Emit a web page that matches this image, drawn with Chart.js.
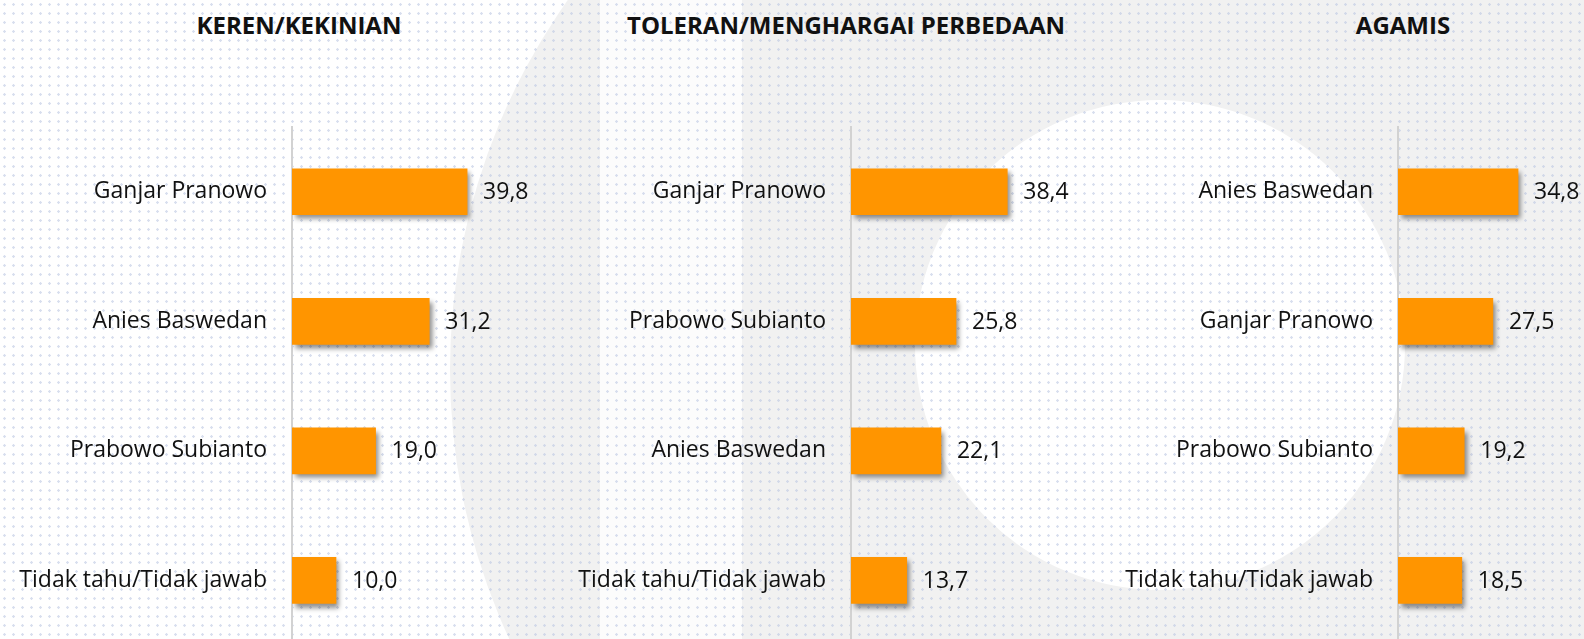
<!DOCTYPE html>
<html>
<head>
<meta charset="utf-8">
<script src="https://cdn.jsdelivr.net/npm/chart.js@4.4.1/dist/chart.umd.min.js"></script>
<style>
  html, body { margin: 0; padding: 0; }
  body { width: 1584px; height: 639px; overflow: hidden; position: relative; background: #ffffff; font-family: "Open Sans", sans-serif; }
  .deco { position: absolute; }
  .ring { left: 450px; top: -270px; width: 1280px; height: 1280px; border-radius: 50%; background: #f1f1f1; }
  .band { left: 600px; top: 0; width: 142px; height: 639px; background: rgba(255,255,255,0.8); }
  .hole { left: 915px; top: 100px; width: 490px; height: 490px; border-radius: 50%; background: #ffffff; }
  .dots { left: 0; top: 0; width: 1584px; height: 639px;
          background-image: radial-gradient(circle, rgba(185,197,225,0.55) 1px, transparent 1.5px);
          background-size: 9px 9px; }
  .title { position: absolute; top: 8px; font-weight: bold; font-size: 24px; color: #111; white-space: nowrap; transform: translateX(-50%); }
  .box { position: absolute; top: 0; height: 684px; }
</style>
</head>
<body>
<div class="deco ring"></div>
<div class="deco band"></div>
<div class="deco hole"></div>
<div class="deco dots"></div>

<div class="title" style="left:299px">KEREN/KEKINIAN</div>
<div class="title" style="left:846px">TOLERAN/MENGHARGAI PERBEDAAN</div>
<div class="title" style="left:1403px">AGAMIS</div>

<div class="box" style="left:0px; width:560px"><canvas id="c1"></canvas></div>
<div class="box" style="left:560px; width:540px"><canvas id="c2"></canvas></div>
<div class="box" style="left:1100px; width:484px"><canvas id="c3"></canvas></div>

<script>
// Keren/Kekinian
const kerenLabels = ['Ganjar Pranowo', 'Anies Baswedan', 'Prabowo Subianto', 'Tidak tahu/Tidak jawab'];
const kerenValues = [39.8, 31.2, 19.0, 10.0];

// Toleran/Menghargai perbedaan
const toleranLabels = ['Ganjar Pranowo', 'Prabowo Subianto', 'Anies Baswedan', 'Tidak tahu/Tidak jawab'];
const toleranValues = [38.4, 25.8, 22.1, 13.7];

// Agamis
const agamisLabels = ['Anies Baswedan', 'Ganjar Pranowo', 'Prabowo Subianto', 'Tidak tahu/Tidak jawab'];
const agamisValues = [34.8, 27.5, 19.2, 18.5];

const barColor = '#ff9500';

// drop shadow under the bars
const barShadow = {
    id: 'barShadow',
    beforeDatasetsDraw(chart) {
        const ctx = chart.ctx;
        ctx.save();
        ctx.shadowColor = 'rgba(0, 0, 0, 0.45)';
        ctx.shadowBlur = 5;
        ctx.shadowOffsetX = 3;
        ctx.shadowOffsetY = 4;
    },
    afterDatasetsDraw(chart) {
        chart.ctx.restore();
    }
};

// numbers at the end of each bar, decimal comma
const valueLabels = {
    id: 'valueLabels',
    afterDraw(chart) {
        const ctx = chart.ctx;
        const meta = chart.getDatasetMeta(0);
        const values = chart.data.datasets[0].data;
        ctx.save();
        ctx.font = '23px "Open Sans"';
        ctx.fillStyle = '#111';
        ctx.textAlign = 'left';
        ctx.textBaseline = 'middle';
        meta.data.forEach(function (bar, i) {
            ctx.fillText(values[i].toFixed(1).replace('.', ','), bar.x + 16, bar.y + 1);
        });
        ctx.restore();
    }
};

function makeChart(id, labels, values, axisWidth, rightPad) {
    const config = {
        type: 'bar',
        data: {
            labels: labels,
            datasets: [{
                data: values,
                backgroundColor: barColor,
                borderWidth: 0,
                barThickness: 46
            }]
        },
        options: {
            indexAxis: 'y',
            responsive: true,
            maintainAspectRatio: false,
            animation: false,
            layout: {
                padding: { top: 127, bottom: 0, left: 0, right: rightPad }
            },
            scales: {
                x: {
                    display: false,
                    min: 0,
                    max: 50
                },
                y: {
                    grid: { color: 'rgba(0,0,0,0)', drawTicks: false },
                    border: { display: true, color: '#d2d2d2', width: 2 },
                    ticks: {
                        color: '#111',
                        padding: 25,
                        font: { family: 'Open Sans', size: 23 }
                    },
                    afterFit: function (scale) {
                        scale.width = axisWidth;
                    }
                }
            },
            plugins: {
                legend: { display: false },
                tooltip: { enabled: false }
            }
        },
        plugins: [barShadow, valueLabels]
    };
    return new Chart(document.getElementById(id), config);
}

makeChart('c1', kerenLabels, kerenValues, 292, 48);
makeChart('c2', toleranLabels, toleranValues, 291, 45.5);
makeChart('c3', agamisLabels, agamisValues, 298, 13.5);
</script>
</body>
</html>
